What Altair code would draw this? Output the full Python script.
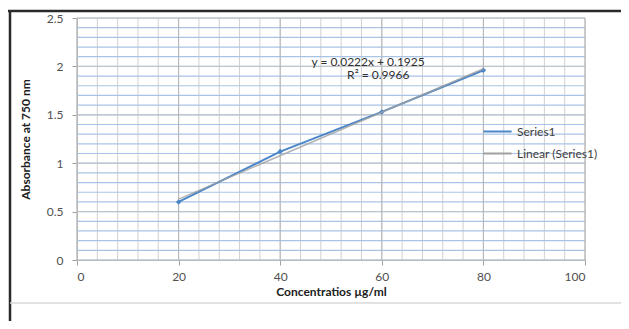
import altair as alt
import pandas as pd

# data
conc = [20, 40, 60, 80]
absorb = [0.60, 1.12, 1.53, 1.96]
series_name = "Series1"
trend_name = "Linear (Series1)"
equation = ["y = 0.0222x + 0.1925", "R² = 0.9966"]
eq_x = [57.3, 59.3]
eq_y = [2.05, 1.91]

x_minor = list(range(0, 101, 4))
x_major = list(range(0, 101, 20))
y_minor = [round(i * 0.1, 1) for i in range(0, 26)]
y_major = [0, 0.5, 1, 1.5, 2, 2.5]

df = pd.DataFrame({"conc": conc, "abs": absorb})
FONT = "Lato"

xs = alt.Scale(domain=[0, 100], nice=False, zero=False)
ys = alt.Scale(domain=[0, 2.5], nice=False, zero=False)

vminor = alt.Chart(pd.DataFrame({"v": x_minor})).mark_rule(color="#d0d0d0", strokeWidth=1).encode(
    x=alt.X("v:Q", scale=xs))
hminor = alt.Chart(pd.DataFrame({"v": y_minor})).mark_rule(color="#a9c3e6", strokeWidth=1.2).encode(
    y=alt.Y("v:Q", scale=ys))
vmajor = alt.Chart(pd.DataFrame({"v": x_major})).mark_rule(color="#b4b4b4", strokeWidth=1).encode(
    x=alt.X("v:Q", scale=xs))
hmajor = alt.Chart(pd.DataFrame({"v": y_major})).mark_rule(color="#c4c4c4", strokeWidth=1).encode(
    y=alt.Y("v:Q", scale=ys))

color = alt.Color(
    "series:N",
    scale=alt.Scale(domain=[series_name, trend_name], range=["#4a86c8", "#a0a0a0"]),
    legend=alt.Legend(
        title=None, orient="none", legendX=405, legendY=98,
        symbolType="stroke", symbolSize=800, symbolStrokeWidth=2,
        labelFont=FONT, labelFontSize=12, labelColor="#404040",
        rowPadding=-1, labelOffset=4,
    ),
)

xaxis = alt.Axis(values=x_major, grid=False, title="Concentratios µg/ml",
                 titleFont=FONT, titleFontSize=12, titleFontWeight="bold", titleColor="#202020",
                 titlePadding=4,
                 labelFont=FONT, labelFontSize=12, labelColor="#505050", labelPadding=6,
                 tickSize=5, tickColor="#a0a0a0", domainColor="#a0a0a0")
yaxis = alt.Axis(values=y_major, grid=False, title="Absorbance at 750 nm",
                 labelExpr="format(datum.value, '~g')",
                 titleFont=FONT, titleFontSize=12, titleFontWeight="bold", titleColor="#202020",
                 titlePadding=14,
                 labelFont=FONT, labelFontSize=12, labelColor="#505050", labelPadding=9,
                 tickSize=5, tickColor="#a0a0a0", domainColor="#a0a0a0")

line = alt.Chart(df).transform_calculate(series=f"'{series_name}'").mark_line(
    strokeWidth=2, point=alt.OverlayMarkDef(shape="diamond", size=30, filled=True, color="#4a86c8")
).encode(
    x=alt.X("conc:Q", scale=xs, axis=xaxis),
    y=alt.Y("abs:Q", scale=ys, axis=yaxis),
    color=color,
)

trend = alt.Chart(df).transform_regression("conc", "abs").transform_calculate(
    series=f"'{trend_name}'").mark_line(strokeWidth=1.5, opacity=0.8).encode(
    x=alt.X("conc:Q", scale=xs),
    y=alt.Y("abs:Q", scale=ys),
    color=color,
)

eq_df = pd.DataFrame({"t": equation, "x": eq_x, "y": eq_y})
eq = alt.Chart(eq_df).mark_text(font=FONT, fontSize=12, color="#303030", align="center").encode(
    x=alt.X("x:Q", scale=xs), y=alt.Y("y:Q", scale=ys), text="t:N")

# frame decorations
top_border = alt.Chart(pd.DataFrame({"a": [0]})).mark_rule(color="#2a2a2a", strokeWidth=2.5).encode(
    x=alt.value(-69), x2=alt.value(544), y=alt.value(-7))
left_border = alt.Chart(pd.DataFrame({"a": [0]})).mark_rule(color="#2a2a2a", strokeWidth=2.5).encode(
    x=alt.value(-67), y=alt.value(-8), y2=alt.value(303))
bottom_line = alt.Chart(pd.DataFrame({"a": [0]})).mark_rule(color="#d8d8d8", strokeWidth=1.5).encode(
    x=alt.value(-67), x2=alt.value(544), y=alt.value(285))

chart = alt.layer(
    vminor, hminor, hmajor, vmajor, line, trend, eq, top_border, left_border, bottom_line
).properties(
    width=508, height=242,
    autosize=alt.AutoSizeParams(type="none"),
    padding={"left": 69, "top": 10, "right": 36, "bottom": 61},
).configure_view(stroke=None).configure(background="white")

chart.save("out.html", embed_options={"renderer": "svg", "actions": False})
